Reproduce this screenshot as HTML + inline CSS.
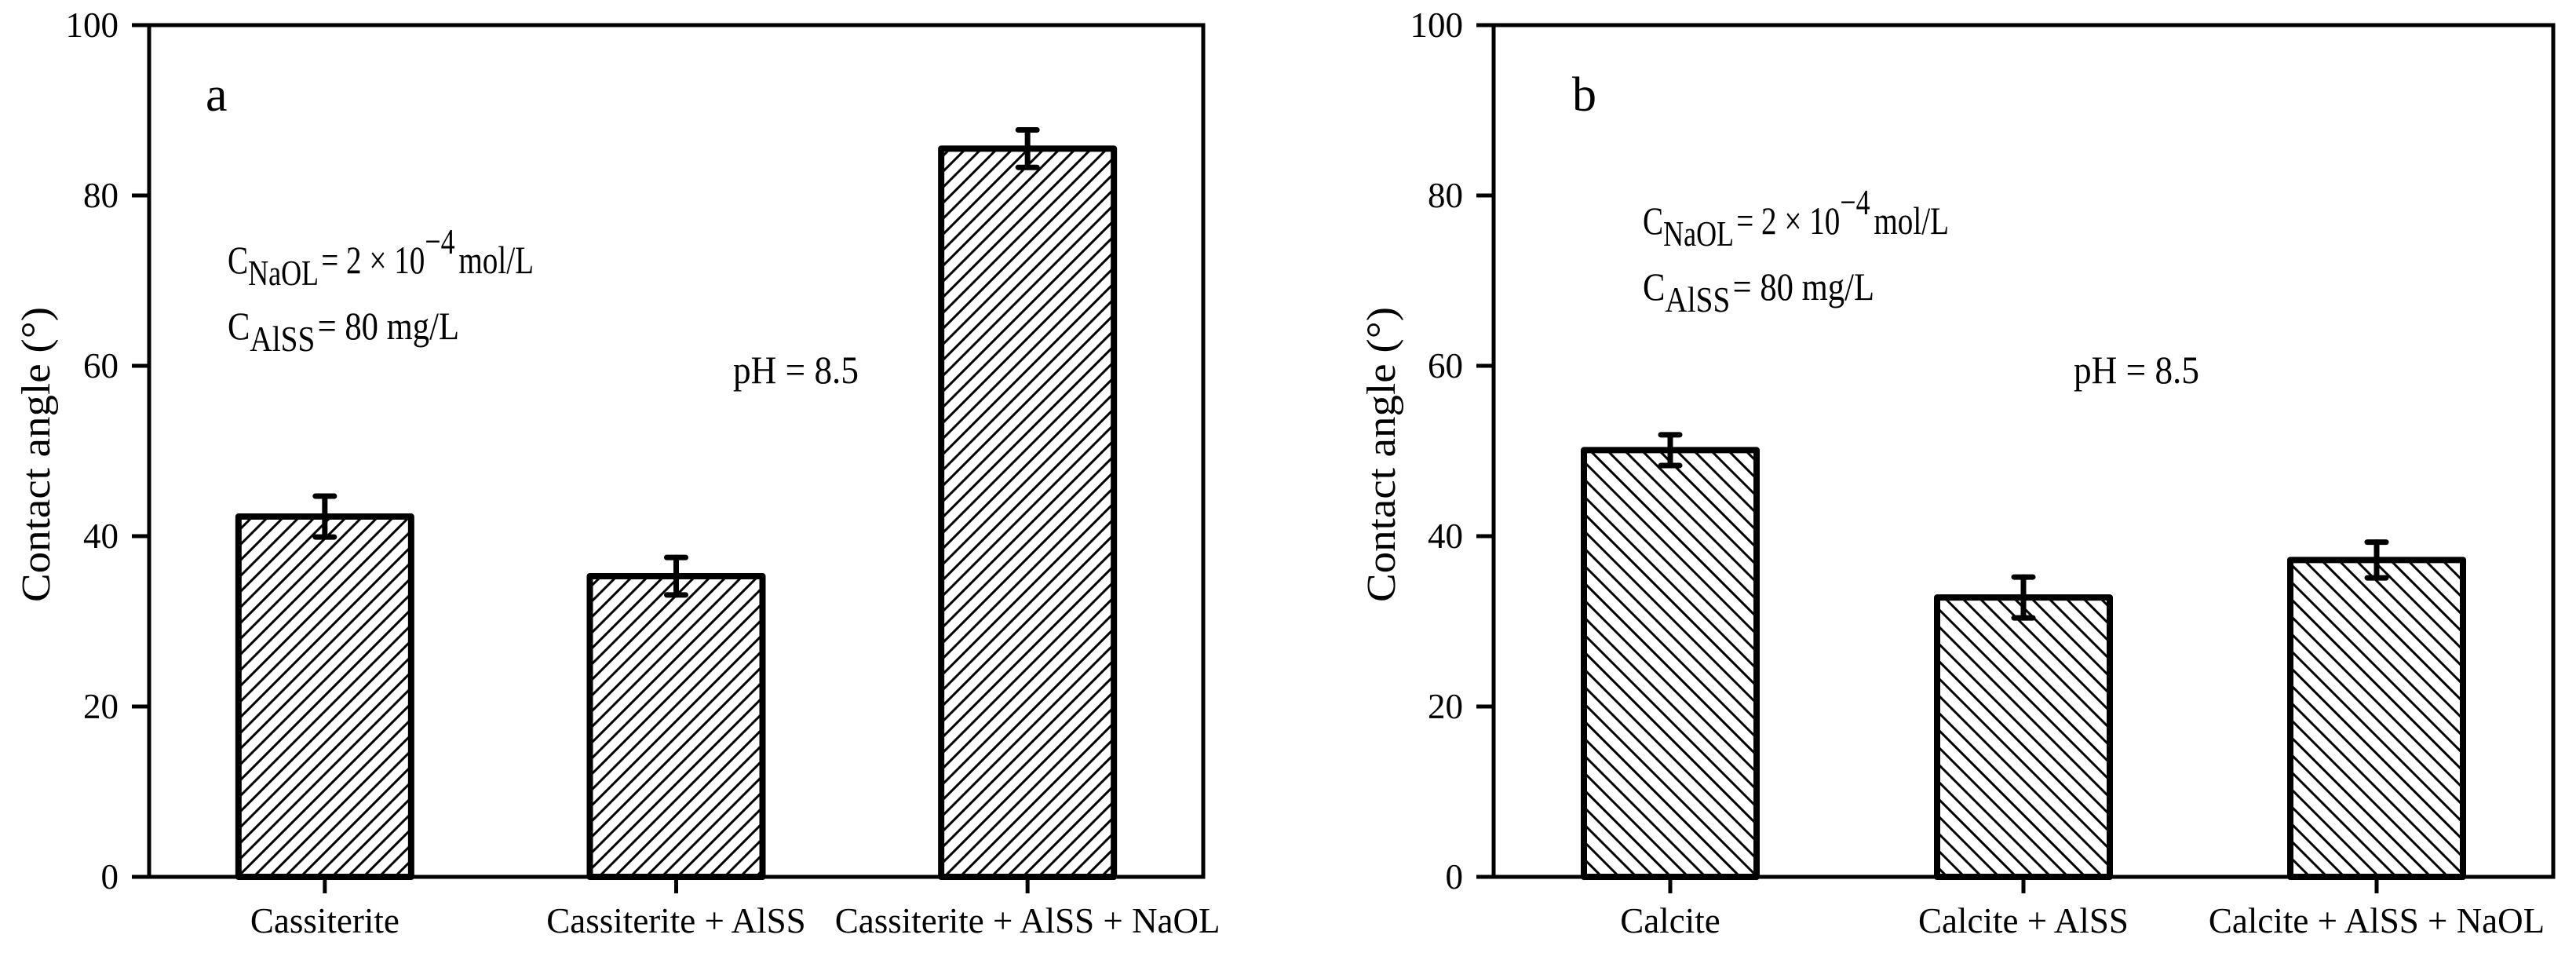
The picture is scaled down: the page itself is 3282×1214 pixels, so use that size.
<!DOCTYPE html>
<html><head><meta charset="utf-8"><style>
html,body{margin:0;padding:0;background:#fff;}
svg{display:block;font-family:"Liberation Serif",serif;}
</style></head><body>
<svg id="fig" width="3282" height="1214" viewBox="0 0 3282 1214" xmlns="http://www.w3.org/2000/svg">
<defs>
<pattern id="hatchA" patternUnits="userSpaceOnUse" width="20" height="20">
<path d="M-5,5 L5,-5 M0,20 L20,0 M15,25 L25,15" stroke="#000" stroke-width="3"/>
</pattern>
<pattern id="hatchB" patternUnits="userSpaceOnUse" width="22" height="22">
<path d="M-5,17 L5,27 M0,0 L22,22 M17,-5 L27,5" stroke="#000" stroke-width="3"/>
</pattern>
</defs>
<g id="panelA"></g>
<g id="panelB"></g>
</svg>
<script>
const categoriesA = ["Cassiterite", "Cassiterite + AlSS", "Cassiterite + AlSS + NaOL"];
const valuesA = [42.3, 35.3, 85.5];
const errorsA = [2.4, 2.2, 2.2];
const categoriesB = ["Calcite", "Calcite + AlSS", "Calcite + AlSS + NaOL"];
const valuesB = [50.1, 32.8, 37.2];
const errorsB = [1.8, 2.4, 2.1];
const yTicks = [0, 20, 40, 60, 80, 100];
const yTickLabels = ["0", "20", "40", "60", "80", "100"];

const NS = "http://www.w3.org/2000/svg";
function mk(parent, tag, attrs, text) {
  const el = document.createElementNS(NS, tag);
  for (const k in attrs) el.setAttribute(k, attrs[k]);
  if (text !== undefined) el.textContent = text;
  parent.appendChild(el);
  return el;
}

function drawPanel(g, cfg, cats, vals, errs) {
  const L = cfg.left, R = cfg.right, T = 32, B = 1117;
  const y = v => B - (v - 0) / 100 * (B - T);
  const step = (R - L) / cats.length;
  const x = i => L + (i + 0.5) * step;
  const bw = 220;

  cats.forEach((c, i) => {
    const r = mk(g, "rect", {x: x(i) - bw / 2, y: y(vals[i]), width: bw, height: B - y(vals[i]),
      fill: "url(#" + cfg.hatch + ")", stroke: "#000", "stroke-width": 8, "stroke-linejoin": "round"});
    
    
  });
  cats.forEach((c, i) => {
    const eg = mk(g, "g", {stroke: "#000", "stroke-width": 7, "stroke-linecap": "round"});
    
    
    const cx = x(i), hi = y(vals[i] + errs[i]), lo = y(vals[i] - errs[i]);
    mk(eg, "line", {x1: cx, y1: hi, x2: cx, y2: lo});
    mk(eg, "line", {x1: cx - 12, y1: hi, x2: cx + 12, y2: hi});
    mk(eg, "line", {x1: cx - 12, y1: lo, x2: cx + 12, y2: lo});
  });
  const fr = mk(g, "rect", {x: L, y: T, width: R - L, height: B - T, fill: "none", stroke: "#000", "stroke-width": 5});
  
  
  yTicks.forEach((t, k) => {
    mk(g, "line", {x1: L - 22, y1: y(t), x2: L, y2: y(t), stroke: "#000", "stroke-width": 5});
    const tl = mk(g, "text", {x: L - 39, y: y(t) + 15, "font-size": 45, "text-anchor": "end"}, yTickLabels[k]);
    
    
  });
  cats.forEach((c, i) => {
    mk(g, "line", {x1: x(i), y1: B, x2: x(i), y2: B + 21, stroke: "#000", "stroke-width": 5});
    const xl = mk(g, "text", {x: x(i), y: 1188, "font-size": 45, "text-anchor": "middle"}, c);
    
    
  });
  const yt = mk(g, "text", {x: 0, y: 0, "font-size": 52, "text-anchor": "middle",
    transform: "translate(" + cfg.titleX + ",579) rotate(-90)", textLength: 376, lengthAdjust: "spacingAndGlyphs"}, "Contact angle (°)");
  
  
  const pl = mk(g, "text", {x: cfg.letterX, y: 141, "font-size": 62}, cfg.id);
  
  
  const a1 = mk(g, "text", {x: cfg.annX, y: cfg.annY, "font-size": 50, textLength: 390, lengthAdjust: "spacingAndGlyphs"});
  
  
  mk(a1, "tspan", {}, "C");
  mk(a1, "tspan", {dy: 15, "font-size": 46}, "NaOL");
  mk(a1, "tspan", {dy: -15, dx: 4}, "= 2 × 10");
  mk(a1, "tspan", {dy: -25, "font-size": 46}, "−4");
  mk(a1, "tspan", {dy: 25, dx: 6}, "mol/L");
  const a2 = mk(g, "text", {x: cfg.annX, y: cfg.annY + 84, "font-size": 50, textLength: 295, lengthAdjust: "spacingAndGlyphs"});
  
  
  mk(a2, "tspan", {}, "C");
  mk(a2, "tspan", {dy: 15, "font-size": 46}, "AlSS");
  mk(a2, "tspan", {dy: -15, dx: 4}, "= 80 mg/L");
  const ph = mk(g, "text", {x: cfg.phX, y: 488, "font-size": 50, textLength: 160, lengthAdjust: "spacingAndGlyphs"}, "pH = 8.5");
  
  
}

drawPanel(document.getElementById("panelA"),
  {id: "a", left: 190, right: 1533, hatch: "hatchA", titleX: 63, letterX: 262, annX: 290, annY: 348, phX: 934},
  categoriesA, valuesA, errorsA);
drawPanel(document.getElementById("panelB"),
  {id: "b", left: 1903, right: 3253, hatch: "hatchB", titleX: 1777, letterX: 2003, annX: 2093, annY: 298, phX: 2642},
  categoriesB, valuesB, errorsB);
</script>
</body></html>
